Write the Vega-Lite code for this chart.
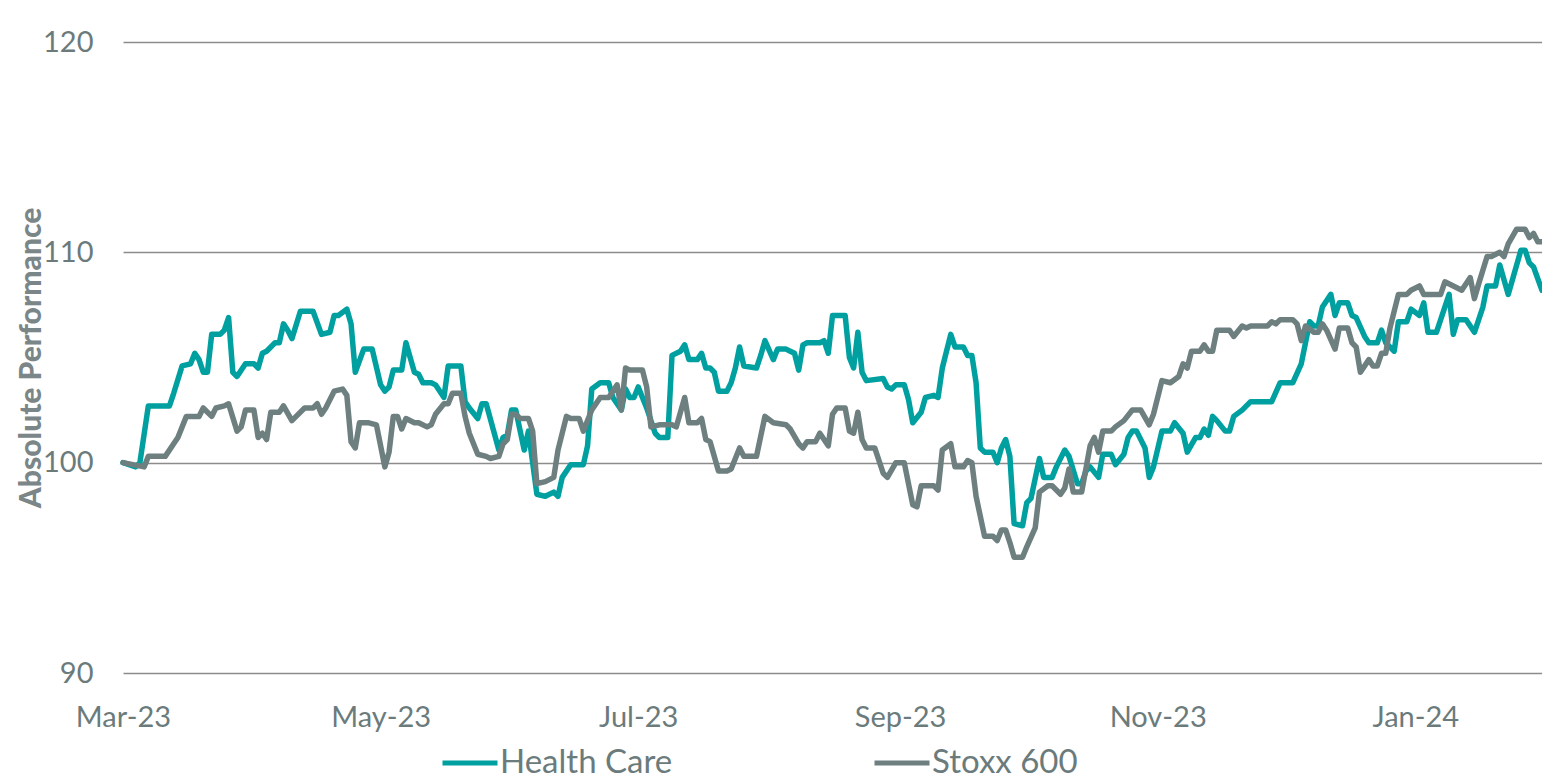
{
"$schema": "https://vega.github.io/schema/vega-lite/v6.json",
"width": 1419,
"height": 631,
"autosize": {"type": "none"},
"padding": {"left": 123, "top": 42, "right": 0, "bottom": 108},
"background": "white",
"config": {"font": "Lato", "view": {"stroke": null}},
"data": {"values": [
{"series":"Health Care","date":"2023-03-01","value":100.0},{"series":"Health Care","date":"2023-03-04","value":99.8},{"series":"Health Care","date":"2023-03-05","value":100.0},{"series":"Health Care","date":"2023-03-07","value":102.7},{"series":"Health Care","date":"2023-03-12","value":102.7},{"series":"Health Care","date":"2023-03-13","value":103.3},{"series":"Health Care","date":"2023-03-15","value":104.6},{"series":"Health Care","date":"2023-03-17","value":104.7},{"series":"Health Care","date":"2023-03-18","value":105.2},{"series":"Health Care","date":"2023-03-19","value":104.9},{"series":"Health Care","date":"2023-03-20","value":104.3},{"series":"Health Care","date":"2023-03-21","value":104.3},{"series":"Health Care","date":"2023-03-22","value":106.1},{"series":"Health Care","date":"2023-03-24","value":106.1},{"series":"Health Care","date":"2023-03-25","value":106.3},{"series":"Health Care","date":"2023-03-26","value":106.9},{"series":"Health Care","date":"2023-03-27","value":104.3},{"series":"Health Care","date":"2023-03-28","value":104.1},{"series":"Health Care","date":"2023-03-30","value":104.7},
{"series":"Health Care","date":"2023-04-01","value":104.7},{"series":"Health Care","date":"2023-04-02","value":104.5},{"series":"Health Care","date":"2023-04-03","value":105.2},{"series":"Health Care","date":"2023-04-04","value":105.3},{"series":"Health Care","date":"2023-04-06","value":105.7},{"series":"Health Care","date":"2023-04-07","value":105.7},{"series":"Health Care","date":"2023-04-08","value":106.6},{"series":"Health Care","date":"2023-04-09","value":106.3},{"series":"Health Care","date":"2023-04-10","value":105.9},{"series":"Health Care","date":"2023-04-12","value":107.2},{"series":"Health Care","date":"2023-04-15","value":107.2},{"series":"Health Care","date":"2023-04-17","value":106.1},{"series":"Health Care","date":"2023-04-19","value":106.2},{"series":"Health Care","date":"2023-04-20","value":107.0},{"series":"Health Care","date":"2023-04-21","value":107.0},{"series":"Health Care","date":"2023-04-23","value":107.3},{"series":"Health Care","date":"2023-04-24","value":106.6},{"series":"Health Care","date":"2023-04-25","value":104.3},{"series":"Health Care","date":"2023-04-27","value":105.4},{"series":"Health Care","date":"2023-04-29","value":105.4},
{"series":"Health Care","date":"2023-05-01","value":103.7},{"series":"Health Care","date":"2023-05-02","value":103.4},{"series":"Health Care","date":"2023-05-03","value":103.6},{"series":"Health Care","date":"2023-05-04","value":104.4},{"series":"Health Care","date":"2023-05-06","value":104.4},{"series":"Health Care","date":"2023-05-07","value":105.7},{"series":"Health Care","date":"2023-05-09","value":104.3},{"series":"Health Care","date":"2023-05-10","value":104.2},{"series":"Health Care","date":"2023-05-11","value":103.8},{"series":"Health Care","date":"2023-05-13","value":103.8},{"series":"Health Care","date":"2023-05-14","value":103.7},{"series":"Health Care","date":"2023-05-16","value":103.1},{"series":"Health Care","date":"2023-05-17","value":104.6},{"series":"Health Care","date":"2023-05-20","value":104.6},{"series":"Health Care","date":"2023-05-21","value":102.9},{"series":"Health Care","date":"2023-05-22","value":102.6},{"series":"Health Care","date":"2023-05-24","value":102.1},{"series":"Health Care","date":"2023-05-25","value":102.8},{"series":"Health Care","date":"2023-05-26","value":102.8},{"series":"Health Care","date":"2023-05-29","value":100.6},{"series":"Health Care","date":"2023-05-30","value":101.2},{"series":"Health Care","date":"2023-05-31","value":101.3},
{"series":"Health Care","date":"2023-06-01","value":102.5},{"series":"Health Care","date":"2023-06-02","value":102.5},{"series":"Health Care","date":"2023-06-04","value":100.6},{"series":"Health Care","date":"2023-06-05","value":101.5},{"series":"Health Care","date":"2023-06-07","value":98.5},{"series":"Health Care","date":"2023-06-09","value":98.4},{"series":"Health Care","date":"2023-06-11","value":98.6},{"series":"Health Care","date":"2023-06-12","value":98.4},{"series":"Health Care","date":"2023-06-13","value":99.3},{"series":"Health Care","date":"2023-06-15","value":99.9},{"series":"Health Care","date":"2023-06-18","value":99.9},{"series":"Health Care","date":"2023-06-19","value":100.8},{"series":"Health Care","date":"2023-06-20","value":103.5},{"series":"Health Care","date":"2023-06-22","value":103.8},{"series":"Health Care","date":"2023-06-24","value":103.8},{"series":"Health Care","date":"2023-06-25","value":103.1},{"series":"Health Care","date":"2023-06-27","value":102.5},{"series":"Health Care","date":"2023-06-28","value":103.5},{"series":"Health Care","date":"2023-06-29","value":103.1},{"series":"Health Care","date":"2023-06-30","value":103.1},
{"series":"Health Care","date":"2023-07-01","value":103.6},{"series":"Health Care","date":"2023-07-03","value":102.6},{"series":"Health Care","date":"2023-07-05","value":101.4},{"series":"Health Care","date":"2023-07-06","value":101.2},{"series":"Health Care","date":"2023-07-08","value":101.2},{"series":"Health Care","date":"2023-07-09","value":105.1},{"series":"Health Care","date":"2023-07-11","value":105.3},{"series":"Health Care","date":"2023-07-12","value":105.6},{"series":"Health Care","date":"2023-07-13","value":104.9},{"series":"Health Care","date":"2023-07-15","value":104.9},{"series":"Health Care","date":"2023-07-16","value":105.2},{"series":"Health Care","date":"2023-07-17","value":104.5},{"series":"Health Care","date":"2023-07-18","value":104.5},{"series":"Health Care","date":"2023-07-19","value":104.3},{"series":"Health Care","date":"2023-07-20","value":103.4},{"series":"Health Care","date":"2023-07-22","value":103.4},{"series":"Health Care","date":"2023-07-23","value":103.8},{"series":"Health Care","date":"2023-07-24","value":104.5},{"series":"Health Care","date":"2023-07-25","value":105.5},{"series":"Health Care","date":"2023-07-26","value":104.6},{"series":"Health Care","date":"2023-07-29","value":104.5},{"series":"Health Care","date":"2023-07-30","value":105.1},{"series":"Health Care","date":"2023-07-31","value":105.8},
{"series":"Health Care","date":"2023-08-02","value":104.9},{"series":"Health Care","date":"2023-08-03","value":105.4},{"series":"Health Care","date":"2023-08-05","value":105.4},{"series":"Health Care","date":"2023-08-06","value":105.3},{"series":"Health Care","date":"2023-08-07","value":105.2},{"series":"Health Care","date":"2023-08-08","value":104.4},{"series":"Health Care","date":"2023-08-09","value":105.6},{"series":"Health Care","date":"2023-08-10","value":105.7},{"series":"Health Care","date":"2023-08-13","value":105.7},{"series":"Health Care","date":"2023-08-14","value":105.8},{"series":"Health Care","date":"2023-08-15","value":105.2},{"series":"Health Care","date":"2023-08-16","value":107.0},{"series":"Health Care","date":"2023-08-19","value":107.0},{"series":"Health Care","date":"2023-08-20","value":105.0},{"series":"Health Care","date":"2023-08-21","value":104.5},{"series":"Health Care","date":"2023-08-22","value":106.2},{"series":"Health Care","date":"2023-08-23","value":104.3},{"series":"Health Care","date":"2023-08-24","value":103.9},{"series":"Health Care","date":"2023-08-28","value":104.0},{"series":"Health Care","date":"2023-08-29","value":103.6},{"series":"Health Care","date":"2023-08-30","value":103.5},{"series":"Health Care","date":"2023-08-31","value":103.7},
{"series":"Health Care","date":"2023-09-02","value":103.7},{"series":"Health Care","date":"2023-09-03","value":103.0},{"series":"Health Care","date":"2023-09-04","value":101.9},{"series":"Health Care","date":"2023-09-06","value":102.4},{"series":"Health Care","date":"2023-09-07","value":103.1},{"series":"Health Care","date":"2023-09-09","value":103.2},{"series":"Health Care","date":"2023-09-10","value":103.1},{"series":"Health Care","date":"2023-09-11","value":104.5},{"series":"Health Care","date":"2023-09-13","value":106.1},{"series":"Health Care","date":"2023-09-14","value":105.5},{"series":"Health Care","date":"2023-09-16","value":105.5},{"series":"Health Care","date":"2023-09-17","value":105.1},{"series":"Health Care","date":"2023-09-18","value":105.1},{"series":"Health Care","date":"2023-09-19","value":103.8},{"series":"Health Care","date":"2023-09-20","value":100.7},{"series":"Health Care","date":"2023-09-21","value":100.5},{"series":"Health Care","date":"2023-09-23","value":100.5},{"series":"Health Care","date":"2023-09-24","value":100.0},{"series":"Health Care","date":"2023-09-25","value":100.7},{"series":"Health Care","date":"2023-09-26","value":101.1},{"series":"Health Care","date":"2023-09-27","value":100.3},{"series":"Health Care","date":"2023-09-28","value":97.1},{"series":"Health Care","date":"2023-09-30","value":97.0},
{"series":"Health Care","date":"2023-10-01","value":98.1},{"series":"Health Care","date":"2023-10-02","value":98.3},{"series":"Health Care","date":"2023-10-04","value":100.2},{"series":"Health Care","date":"2023-10-05","value":99.3},{"series":"Health Care","date":"2023-10-07","value":99.3},{"series":"Health Care","date":"2023-10-08","value":99.8},{"series":"Health Care","date":"2023-10-10","value":100.6},{"series":"Health Care","date":"2023-10-11","value":100.3},{"series":"Health Care","date":"2023-10-13","value":99.0},{"series":"Health Care","date":"2023-10-14","value":99.0},{"series":"Health Care","date":"2023-10-15","value":99.6},{"series":"Health Care","date":"2023-10-16","value":99.8},{"series":"Health Care","date":"2023-10-18","value":99.3},{"series":"Health Care","date":"2023-10-19","value":100.4},{"series":"Health Care","date":"2023-10-21","value":100.4},{"series":"Health Care","date":"2023-10-22","value":99.9},{"series":"Health Care","date":"2023-10-24","value":100.4},{"series":"Health Care","date":"2023-10-25","value":101.2},{"series":"Health Care","date":"2023-10-26","value":101.5},{"series":"Health Care","date":"2023-10-27","value":101.5},{"series":"Health Care","date":"2023-10-29","value":100.7},{"series":"Health Care","date":"2023-10-30","value":99.3},{"series":"Health Care","date":"2023-10-31","value":99.8},
{"series":"Health Care","date":"2023-11-02","value":101.5},{"series":"Health Care","date":"2023-11-04","value":101.5},{"series":"Health Care","date":"2023-11-05","value":101.9},{"series":"Health Care","date":"2023-11-07","value":101.4},{"series":"Health Care","date":"2023-11-08","value":100.5},{"series":"Health Care","date":"2023-11-10","value":101.2},{"series":"Health Care","date":"2023-11-11","value":101.2},{"series":"Health Care","date":"2023-11-12","value":101.6},{"series":"Health Care","date":"2023-11-13","value":101.3},{"series":"Health Care","date":"2023-11-14","value":102.2},{"series":"Health Care","date":"2023-11-15","value":102.0},{"series":"Health Care","date":"2023-11-17","value":101.5},{"series":"Health Care","date":"2023-11-18","value":101.5},{"series":"Health Care","date":"2023-11-19","value":102.2},{"series":"Health Care","date":"2023-11-21","value":102.5},{"series":"Health Care","date":"2023-11-23","value":102.9},{"series":"Health Care","date":"2023-11-28","value":102.9},{"series":"Health Care","date":"2023-11-30","value":103.8},
{"series":"Health Care","date":"2023-12-03","value":103.8},{"series":"Health Care","date":"2023-12-05","value":104.7},{"series":"Health Care","date":"2023-12-06","value":105.7},{"series":"Health Care","date":"2023-12-07","value":106.7},{"series":"Health Care","date":"2023-12-08","value":106.5},{"series":"Health Care","date":"2023-12-09","value":106.5},{"series":"Health Care","date":"2023-12-10","value":107.4},{"series":"Health Care","date":"2023-12-12","value":108.0},{"series":"Health Care","date":"2023-12-13","value":107.0},{"series":"Health Care","date":"2023-12-14","value":107.6},{"series":"Health Care","date":"2023-12-16","value":107.6},{"series":"Health Care","date":"2023-12-17","value":107.0},{"series":"Health Care","date":"2023-12-18","value":106.9},{"series":"Health Care","date":"2023-12-20","value":106.0},{"series":"Health Care","date":"2023-12-21","value":105.7},{"series":"Health Care","date":"2023-12-23","value":105.7},{"series":"Health Care","date":"2023-12-24","value":106.3},{"series":"Health Care","date":"2023-12-25","value":105.7},{"series":"Health Care","date":"2023-12-27","value":105.3},{"series":"Health Care","date":"2023-12-28","value":106.7},{"series":"Health Care","date":"2023-12-30","value":106.7},{"series":"Health Care","date":"2023-12-31","value":107.3},
{"series":"Health Care","date":"2024-01-02","value":107.0},{"series":"Health Care","date":"2024-01-03","value":107.6},{"series":"Health Care","date":"2024-01-04","value":106.2},{"series":"Health Care","date":"2024-01-06","value":106.2},{"series":"Health Care","date":"2024-01-09","value":108.0},{"series":"Health Care","date":"2024-01-10","value":106.1},{"series":"Health Care","date":"2024-01-11","value":106.8},{"series":"Health Care","date":"2024-01-13","value":106.8},{"series":"Health Care","date":"2024-01-15","value":106.2},{"series":"Health Care","date":"2024-01-17","value":107.4},{"series":"Health Care","date":"2024-01-18","value":108.4},{"series":"Health Care","date":"2024-01-20","value":108.4},{"series":"Health Care","date":"2024-01-21","value":109.4},{"series":"Health Care","date":"2024-01-23","value":108.0},{"series":"Health Care","date":"2024-01-25","value":109.4},{"series":"Health Care","date":"2024-01-26","value":110.1},{"series":"Health Care","date":"2024-01-27","value":110.1},{"series":"Health Care","date":"2024-01-28","value":109.5},{"series":"Health Care","date":"2024-01-29","value":109.3},{"series":"Health Care","date":"2024-01-31","value":108.2},
{"series":"Stoxx 600","date":"2023-03-01","value":100.0},{"series":"Stoxx 600","date":"2023-03-06","value":99.8},{"series":"Stoxx 600","date":"2023-03-07","value":100.3},{"series":"Stoxx 600","date":"2023-03-11","value":100.3},{"series":"Stoxx 600","date":"2023-03-13","value":100.9},{"series":"Stoxx 600","date":"2023-03-14","value":101.2},{"series":"Stoxx 600","date":"2023-03-16","value":102.2},{"series":"Stoxx 600","date":"2023-03-19","value":102.2},{"series":"Stoxx 600","date":"2023-03-20","value":102.6},{"series":"Stoxx 600","date":"2023-03-22","value":102.2},{"series":"Stoxx 600","date":"2023-03-23","value":102.6},{"series":"Stoxx 600","date":"2023-03-25","value":102.7},{"series":"Stoxx 600","date":"2023-03-26","value":102.8},{"series":"Stoxx 600","date":"2023-03-28","value":101.5},{"series":"Stoxx 600","date":"2023-03-29","value":101.7},{"series":"Stoxx 600","date":"2023-03-30","value":102.5},
{"series":"Stoxx 600","date":"2023-04-01","value":102.5},{"series":"Stoxx 600","date":"2023-04-02","value":101.2},{"series":"Stoxx 600","date":"2023-04-03","value":101.4},{"series":"Stoxx 600","date":"2023-04-04","value":101.1},{"series":"Stoxx 600","date":"2023-04-05","value":102.4},{"series":"Stoxx 600","date":"2023-04-07","value":102.4},{"series":"Stoxx 600","date":"2023-04-08","value":102.7},{"series":"Stoxx 600","date":"2023-04-10","value":102.0},{"series":"Stoxx 600","date":"2023-04-11","value":102.2},{"series":"Stoxx 600","date":"2023-04-13","value":102.6},{"series":"Stoxx 600","date":"2023-04-15","value":102.6},{"series":"Stoxx 600","date":"2023-04-16","value":102.8},{"series":"Stoxx 600","date":"2023-04-17","value":102.3},{"series":"Stoxx 600","date":"2023-04-18","value":102.6},{"series":"Stoxx 600","date":"2023-04-20","value":103.4},{"series":"Stoxx 600","date":"2023-04-22","value":103.5},{"series":"Stoxx 600","date":"2023-04-23","value":103.2},{"series":"Stoxx 600","date":"2023-04-24","value":101.0},{"series":"Stoxx 600","date":"2023-04-25","value":100.7},{"series":"Stoxx 600","date":"2023-04-26","value":101.9},{"series":"Stoxx 600","date":"2023-04-28","value":101.9},{"series":"Stoxx 600","date":"2023-04-30","value":101.8},
{"series":"Stoxx 600","date":"2023-05-02","value":99.8},{"series":"Stoxx 600","date":"2023-05-03","value":100.5},{"series":"Stoxx 600","date":"2023-05-04","value":102.2},{"series":"Stoxx 600","date":"2023-05-05","value":102.2},{"series":"Stoxx 600","date":"2023-05-06","value":101.6},{"series":"Stoxx 600","date":"2023-05-07","value":102.1},{"series":"Stoxx 600","date":"2023-05-09","value":101.9},{"series":"Stoxx 600","date":"2023-05-10","value":101.9},{"series":"Stoxx 600","date":"2023-05-12","value":101.7},{"series":"Stoxx 600","date":"2023-05-13","value":101.8},{"series":"Stoxx 600","date":"2023-05-14","value":102.3},{"series":"Stoxx 600","date":"2023-05-16","value":102.8},{"series":"Stoxx 600","date":"2023-05-17","value":102.8},{"series":"Stoxx 600","date":"2023-05-18","value":103.3},{"series":"Stoxx 600","date":"2023-05-20","value":103.3},{"series":"Stoxx 600","date":"2023-05-21","value":102.2},{"series":"Stoxx 600","date":"2023-05-22","value":101.4},{"series":"Stoxx 600","date":"2023-05-24","value":100.4},{"series":"Stoxx 600","date":"2023-05-26","value":100.3},{"series":"Stoxx 600","date":"2023-05-27","value":100.2},{"series":"Stoxx 600","date":"2023-05-29","value":100.3},{"series":"Stoxx 600","date":"2023-05-30","value":100.9},{"series":"Stoxx 600","date":"2023-05-31","value":101.1},
{"series":"Stoxx 600","date":"2023-06-01","value":102.3},{"series":"Stoxx 600","date":"2023-06-02","value":102.3},{"series":"Stoxx 600","date":"2023-06-03","value":102.1},{"series":"Stoxx 600","date":"2023-06-05","value":102.1},{"series":"Stoxx 600","date":"2023-06-06","value":101.5},{"series":"Stoxx 600","date":"2023-06-07","value":99.0},{"series":"Stoxx 600","date":"2023-06-09","value":99.1},{"series":"Stoxx 600","date":"2023-06-11","value":99.3},{"series":"Stoxx 600","date":"2023-06-12","value":100.6},{"series":"Stoxx 600","date":"2023-06-14","value":102.2},{"series":"Stoxx 600","date":"2023-06-15","value":102.1},{"series":"Stoxx 600","date":"2023-06-17","value":102.1},{"series":"Stoxx 600","date":"2023-06-18","value":101.5},{"series":"Stoxx 600","date":"2023-06-19","value":102.0},{"series":"Stoxx 600","date":"2023-06-20","value":102.5},{"series":"Stoxx 600","date":"2023-06-22","value":103.1},{"series":"Stoxx 600","date":"2023-06-24","value":103.1},{"series":"Stoxx 600","date":"2023-06-26","value":103.7},{"series":"Stoxx 600","date":"2023-06-27","value":102.5},{"series":"Stoxx 600","date":"2023-06-28","value":104.5},{"series":"Stoxx 600","date":"2023-06-29","value":104.4},
{"series":"Stoxx 600","date":"2023-07-02","value":104.4},{"series":"Stoxx 600","date":"2023-07-03","value":103.6},{"series":"Stoxx 600","date":"2023-07-04","value":101.7},{"series":"Stoxx 600","date":"2023-07-06","value":101.8},{"series":"Stoxx 600","date":"2023-07-09","value":101.8},{"series":"Stoxx 600","date":"2023-07-10","value":101.7},{"series":"Stoxx 600","date":"2023-07-12","value":103.1},{"series":"Stoxx 600","date":"2023-07-13","value":101.9},{"series":"Stoxx 600","date":"2023-07-15","value":101.9},{"series":"Stoxx 600","date":"2023-07-16","value":102.1},{"series":"Stoxx 600","date":"2023-07-17","value":101.1},{"series":"Stoxx 600","date":"2023-07-18","value":101.0},{"series":"Stoxx 600","date":"2023-07-20","value":99.6},{"series":"Stoxx 600","date":"2023-07-22","value":99.6},{"series":"Stoxx 600","date":"2023-07-23","value":99.7},{"series":"Stoxx 600","date":"2023-07-25","value":100.7},{"series":"Stoxx 600","date":"2023-07-26","value":100.3},{"series":"Stoxx 600","date":"2023-07-29","value":100.3},{"series":"Stoxx 600","date":"2023-07-31","value":102.2},
{"series":"Stoxx 600","date":"2023-08-02","value":101.9},{"series":"Stoxx 600","date":"2023-08-05","value":101.8},{"series":"Stoxx 600","date":"2023-08-06","value":101.6},{"series":"Stoxx 600","date":"2023-08-08","value":100.9},{"series":"Stoxx 600","date":"2023-08-09","value":100.7},{"series":"Stoxx 600","date":"2023-08-10","value":101.0},{"series":"Stoxx 600","date":"2023-08-12","value":101.0},{"series":"Stoxx 600","date":"2023-08-13","value":101.4},{"series":"Stoxx 600","date":"2023-08-15","value":100.8},{"series":"Stoxx 600","date":"2023-08-16","value":102.3},{"series":"Stoxx 600","date":"2023-08-17","value":102.6},{"series":"Stoxx 600","date":"2023-08-19","value":102.6},{"series":"Stoxx 600","date":"2023-08-20","value":101.5},{"series":"Stoxx 600","date":"2023-08-21","value":101.4},{"series":"Stoxx 600","date":"2023-08-22","value":102.4},{"series":"Stoxx 600","date":"2023-08-23","value":101.1},{"series":"Stoxx 600","date":"2023-08-24","value":100.7},{"series":"Stoxx 600","date":"2023-08-26","value":100.7},{"series":"Stoxx 600","date":"2023-08-28","value":99.5},{"series":"Stoxx 600","date":"2023-08-29","value":99.3},{"series":"Stoxx 600","date":"2023-08-31","value":100.0},
{"series":"Stoxx 600","date":"2023-09-02","value":100.0},{"series":"Stoxx 600","date":"2023-09-04","value":98.0},{"series":"Stoxx 600","date":"2023-09-05","value":97.9},{"series":"Stoxx 600","date":"2023-09-06","value":98.9},{"series":"Stoxx 600","date":"2023-09-09","value":98.9},{"series":"Stoxx 600","date":"2023-09-10","value":98.7},{"series":"Stoxx 600","date":"2023-09-11","value":100.6},{"series":"Stoxx 600","date":"2023-09-13","value":100.9},{"series":"Stoxx 600","date":"2023-09-14","value":99.8},{"series":"Stoxx 600","date":"2023-09-16","value":99.8},{"series":"Stoxx 600","date":"2023-09-17","value":100.1},{"series":"Stoxx 600","date":"2023-09-18","value":100.0},{"series":"Stoxx 600","date":"2023-09-19","value":98.4},{"series":"Stoxx 600","date":"2023-09-21","value":96.5},{"series":"Stoxx 600","date":"2023-09-23","value":96.5},{"series":"Stoxx 600","date":"2023-09-24","value":96.3},{"series":"Stoxx 600","date":"2023-09-25","value":96.8},{"series":"Stoxx 600","date":"2023-09-26","value":96.8},{"series":"Stoxx 600","date":"2023-09-27","value":96.2},{"series":"Stoxx 600","date":"2023-09-28","value":95.5},{"series":"Stoxx 600","date":"2023-09-30","value":95.5},
{"series":"Stoxx 600","date":"2023-10-01","value":96.0},{"series":"Stoxx 600","date":"2023-10-03","value":96.9},{"series":"Stoxx 600","date":"2023-10-04","value":98.6},{"series":"Stoxx 600","date":"2023-10-06","value":98.9},{"series":"Stoxx 600","date":"2023-10-07","value":98.9},{"series":"Stoxx 600","date":"2023-10-09","value":98.5},{"series":"Stoxx 600","date":"2023-10-10","value":98.8},{"series":"Stoxx 600","date":"2023-10-11","value":99.7},{"series":"Stoxx 600","date":"2023-10-12","value":98.6},{"series":"Stoxx 600","date":"2023-10-14","value":98.6},{"series":"Stoxx 600","date":"2023-10-16","value":100.8},{"series":"Stoxx 600","date":"2023-10-17","value":101.2},{"series":"Stoxx 600","date":"2023-10-18","value":100.5},{"series":"Stoxx 600","date":"2023-10-19","value":101.5},{"series":"Stoxx 600","date":"2023-10-21","value":101.5},{"series":"Stoxx 600","date":"2023-10-22","value":101.7},{"series":"Stoxx 600","date":"2023-10-24","value":102.0},{"series":"Stoxx 600","date":"2023-10-26","value":102.5},{"series":"Stoxx 600","date":"2023-10-28","value":102.5},{"series":"Stoxx 600","date":"2023-10-30","value":101.8},{"series":"Stoxx 600","date":"2023-10-31","value":102.3},
{"series":"Stoxx 600","date":"2023-11-02","value":103.9},{"series":"Stoxx 600","date":"2023-11-04","value":103.8},{"series":"Stoxx 600","date":"2023-11-06","value":104.1},{"series":"Stoxx 600","date":"2023-11-07","value":104.7},{"series":"Stoxx 600","date":"2023-11-08","value":104.5},{"series":"Stoxx 600","date":"2023-11-09","value":105.3},{"series":"Stoxx 600","date":"2023-11-11","value":105.3},{"series":"Stoxx 600","date":"2023-11-12","value":105.6},{"series":"Stoxx 600","date":"2023-11-13","value":105.3},{"series":"Stoxx 600","date":"2023-11-14","value":105.3},{"series":"Stoxx 600","date":"2023-11-15","value":106.3},{"series":"Stoxx 600","date":"2023-11-18","value":106.3},{"series":"Stoxx 600","date":"2023-11-19","value":106.0},{"series":"Stoxx 600","date":"2023-11-21","value":106.5},{"series":"Stoxx 600","date":"2023-11-22","value":106.4},{"series":"Stoxx 600","date":"2023-11-23","value":106.5},{"series":"Stoxx 600","date":"2023-11-27","value":106.5},{"series":"Stoxx 600","date":"2023-11-28","value":106.7},{"series":"Stoxx 600","date":"2023-11-29","value":106.6},{"series":"Stoxx 600","date":"2023-11-30","value":106.8},
{"series":"Stoxx 600","date":"2023-12-03","value":106.8},{"series":"Stoxx 600","date":"2023-12-04","value":106.6},{"series":"Stoxx 600","date":"2023-12-05","value":105.8},{"series":"Stoxx 600","date":"2023-12-06","value":106.5},{"series":"Stoxx 600","date":"2023-12-08","value":106.2},{"series":"Stoxx 600","date":"2023-12-09","value":106.2},{"series":"Stoxx 600","date":"2023-12-10","value":106.6},{"series":"Stoxx 600","date":"2023-12-11","value":106.3},{"series":"Stoxx 600","date":"2023-12-13","value":105.4},{"series":"Stoxx 600","date":"2023-12-14","value":106.4},{"series":"Stoxx 600","date":"2023-12-16","value":106.4},{"series":"Stoxx 600","date":"2023-12-17","value":105.7},{"series":"Stoxx 600","date":"2023-12-18","value":105.5},{"series":"Stoxx 600","date":"2023-12-19","value":104.3},{"series":"Stoxx 600","date":"2023-12-21","value":104.9},{"series":"Stoxx 600","date":"2023-12-22","value":104.6},{"series":"Stoxx 600","date":"2023-12-23","value":104.6},{"series":"Stoxx 600","date":"2023-12-24","value":105.2},{"series":"Stoxx 600","date":"2023-12-25","value":105.2},{"series":"Stoxx 600","date":"2023-12-26","value":106.4},{"series":"Stoxx 600","date":"2023-12-28","value":108.0},{"series":"Stoxx 600","date":"2023-12-30","value":108.0},{"series":"Stoxx 600","date":"2023-12-31","value":108.2},
{"series":"Stoxx 600","date":"2024-01-02","value":108.4},{"series":"Stoxx 600","date":"2024-01-03","value":108.0},{"series":"Stoxx 600","date":"2024-01-07","value":108.0},{"series":"Stoxx 600","date":"2024-01-08","value":108.6},{"series":"Stoxx 600","date":"2024-01-10","value":108.4},{"series":"Stoxx 600","date":"2024-01-12","value":108.2},{"series":"Stoxx 600","date":"2024-01-14","value":108.8},{"series":"Stoxx 600","date":"2024-01-15","value":107.8},{"series":"Stoxx 600","date":"2024-01-16","value":108.5},{"series":"Stoxx 600","date":"2024-01-18","value":109.8},{"series":"Stoxx 600","date":"2024-01-19","value":109.8},{"series":"Stoxx 600","date":"2024-01-21","value":110.0},{"series":"Stoxx 600","date":"2024-01-22","value":109.8},{"series":"Stoxx 600","date":"2024-01-23","value":110.4},{"series":"Stoxx 600","date":"2024-01-25","value":111.1},{"series":"Stoxx 600","date":"2024-01-27","value":111.1},{"series":"Stoxx 600","date":"2024-01-28","value":110.7},{"series":"Stoxx 600","date":"2024-01-29","value":110.9},{"series":"Stoxx 600","date":"2024-01-30","value":110.5},{"series":"Stoxx 600","date":"2024-01-31","value":110.5}
]},
"mark": {"type": "line", "strokeWidth": 5.5, "strokeJoin": "round", "strokeCap": "round", "clip": false},
"encoding": {
"x": {"field": "date", "type": "temporal",
"scale": {"type": "utc", "domain": [{"year": 2023, "month": 3, "date": 1, "utc": true}, {"year": 2024, "month": 1, "date": 31, "utc": true}]},
"axis": {"title": null,
"values": [{"year": 2023, "month": 3, "date": 1, "utc": true}, {"year": 2023, "month": 5, "date": 1, "utc": true}, {"year": 2023, "month": 7, "date": 1, "utc": true}, {"year": 2023, "month": 9, "date": 1, "utc": true}, {"year": 2023, "month": 11, "date": 1, "utc": true}, {"year": 2024, "month": 1, "date": 1, "utc": true}],
"labelExpr": "utcFormat(datum.value, '%b-%y')", "labelFont": "Lato", "labelFontSize": 29, "labelColor": "#6b7b7c",
"labelPadding": 30, "ticks": false, "tickSize": 0, "domain": false, "grid": false, "labelFlush": false, "labelOverlap": false}},
"y": {"field": "value", "type": "quantitative",
"scale": {"domain": [90, 120], "nice": false, "zero": false},
"axis": {"title": "Absolute Performance", "values": [90, 100, 110, 120], "grid": true, "gridColor": "#8c8c8c", "gridWidth": 1.5,
"domain": false, "ticks": false, "tickSize": 0, "labelFont": "Lato", "labelFontSize": 29, "labelColor": "#6b7b7c", "labelPadding": 30,
"titleFont": "Lato", "titleFontSize": 30, "titleFontWeight": 900, "titleColor": "#7a8687",
"titleX": -92, "titleY": 315.5, "titleAngle": -90, "titleAlign": "center", "titleBaseline": "middle"}},
"color": {"field": "series", "type": "nominal",
"scale": {"domain": ["Health Care", "Stoxx 600"], "range": ["#00a0a0", "#6e7f80"]},
"legend": {"title": null, "orient": "none", "legendX": 317, "legendY": 691, "direction": "horizontal",
"symbolType": "stroke", "symbolSize": 3025, "symbolStrokeWidth": 5, "labelFont": "Lato", "labelFontSize": 33, "labelLimit": 400,
"labelColor": "#6b7b7c", "labelOffset": 0, "columnPadding": 191, "padding": 0}}
}
}
